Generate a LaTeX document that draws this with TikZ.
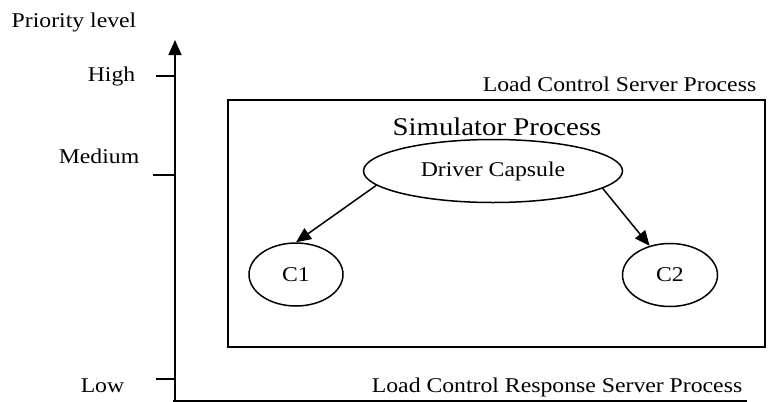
\documentclass[tikz,border=0pt]{standalone}
\usepackage{fontspec}
\setmainfont{Liberation Serif}[FakeStretch=1.13]
\usetikzlibrary{shapes.geometric,arrows.meta}
\begin{document}
\begin{tikzpicture}[x=1pt,y=-1pt,line width=1.5pt,
  lbl/.style={inner sep=0pt,font=\fontsize{21}{24}\selectfont},
  big/.style={inner sep=0pt,font=\fontsize{25.5}{28}\selectfont},
  oval/.style={draw,ellipse,inner sep=0pt,font=\fontsize{21}{24}\selectfont},
  arr/.style={-{Triangle[length=15pt,width=13pt]}},
  tick/.style={line width=1.5pt}]
\useasboundingbox (0,0) rectangle (772,402);
% axes
\coordinate (o) at (175,401);
\coordinate (top) at (175,40);
\coordinate (xend) at (747,401);
\draw[arr] (o) -- (top);
\draw (173,401) -- (xend);
% ticks
\coordinate (hi1) at (156,76); \coordinate (hi2) at (175,76);
\coordinate (me1) at (153,175); \coordinate (me2) at (175,175);
\coordinate (lo1) at (156,379); \coordinate (lo2) at (175,379);
\draw[tick] (hi1) -- (hi2);
\draw[tick] (me1) -- (me2);
\draw[tick] (lo1) -- (lo2);
% labels
\node[lbl,anchor=base west] (pl) at (11,27) {Priority level};
\node[lbl,anchor=base east] (hl) at (136,81) {High};
\node[lbl,anchor=base east] (ml) at (140,163) {Medium};
\node[lbl,anchor=base west] (ll) at (80,392) {Low};
\node[lbl,anchor=base east] (lcs) at (757,91) {Load Control Server Process};
\node[lbl,anchor=base east] (lcr) at (743,392) {Load Control Response Server Process};
% simulator box
\node[draw,rectangle,minimum width=537pt,minimum height=247pt,inner sep=0pt] (sim) at (496.5,223.5) {};
\node[big,anchor=base] (simt) at (497,135) {Simulator Process};
% capsules
\node[oval,minimum width=259pt,minimum height=63pt] (dc) at (493,171) {Driver Capsule};
\node[oval,minimum width=94pt,minimum height=63pt] (c1) at (296,274.5) {C1};
\node[oval,minimum width=95pt,minimum height=63pt] (c2) at (670,275) {C2};
\draw[arr] (dc.187) -- (c1.north);
\draw[arr] (dc.-9) -- (c2.125);
\end{tikzpicture}
\end{document}
